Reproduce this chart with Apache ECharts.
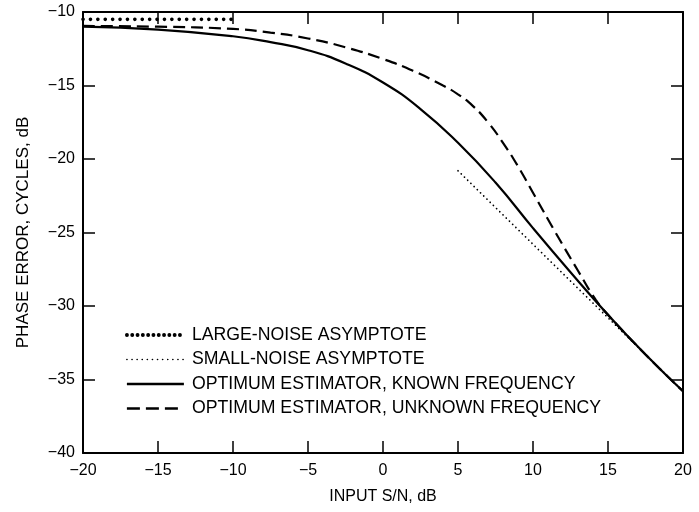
<!DOCTYPE html>
<html>
<head>
<meta charset="utf-8">
<script src="https://cdn.jsdelivr.net/npm/echarts@6/dist/echarts.min.js"></script>
<style>
html,body{margin:0;padding:0;background:#fff;}
#chart{width:699px;height:512px;}
</style>
</head>
<body>
<div id="chart"></div>
<script>
// ---- data ----
var seriesNames = [
  'LARGE-NOISE ASYMPTOTE',
  'SMALL-NOISE ASYMPTOTE',
  'OPTIMUM ESTIMATOR, KNOWN FREQUENCY',
  'OPTIMUM ESTIMATOR, UNKNOWN FREQUENCY'
];
var largeNoiseX = [-20, -10];
var largeNoiseY = [-10.5, -10.5];

var smallNoiseX = [5, 20];
var smallNoiseY = [-20.8, -35.8];

var knownX = [-20, -15, -10, -7.5, -5, -2.5, 0, 2.5, 5, 7.5, 10, 12.5, 15, 17.5, 20];
var knownY = [-11.0, -11.2, -11.65, -12.05, -12.6, -13.5, -14.8, -16.6, -18.9, -21.6, -24.7, -27.7, -30.6, -33.3, -35.8];

var unknownX = [-20, -15, -10, -7.5, -5, -2.5, 0, 2, 4, 5, 6, 7, 8, 9, 10, 11.5, 13, 14.2, 15, 17.5, 20];
var unknownY = [-10.95, -11.0, -11.15, -11.4, -11.8, -12.4, -13.2, -14.0, -15.0, -15.6, -16.4, -17.5, -18.9, -20.5, -22.3, -25.0, -27.6, -29.6, -30.6, -33.3, -35.8];

var xTicks = { min: -20, max: 20, step: 5 };
var yTicks = { min: -40, max: -10, step: 5 };

function pairs(xs, ys) { return xs.map(function (x, i) { return [x, ys[i]]; }); }
function fmt(v) { return v < 0 ? '\u2212' + Math.abs(v) : String(v); }

var FONT = 'Liberation Sans, Arial, Helvetica, sans-serif';
var chart = echarts.init(document.getElementById('chart'), null, { renderer: 'canvas' });

var axisLine = { show: true, onZero: false, lineStyle: { color: '#000', width: 2 } };
var axisTick = { show: true, inside: true, length: 12, lineStyle: { color: '#000', width: 1.5 } };
var labelStyle = { color: '#000', fontFamily: FONT, fontSize: 16 };

var styles = [
  { color: '#000', width: 3.6, type: [0.1, 7.3], cap: 'round' },
  { color: '#000', width: 1.7, type: [0.1, 4.4], cap: 'round' },
  { color: '#000', width: 2.2, type: 'solid' },
  { color: '#000', width: 2.2, type: [12, 6] }
];
var legendStyles = [
  { color: '#000', width: 3.8, type: [0.1, 5.2], cap: 'round' },
  { color: '#000', width: 1.6, type: [0.1, 5], cap: 'round' },
  { color: '#000', width: 2.6, type: 'solid' },
  { color: '#000', width: 2.4, type: [13, 6] }
];

var option = {
  animation: false,
  backgroundColor: '#fff',
  grid: { left: 83, right: 16, top: 12, bottom: 59, containLabel: false },
  legend: {
    orient: 'vertical',
    left: 120,
    top: 321,
    itemWidth: 57,
    itemHeight: 10,
    itemGap: 6.5,
    itemStyle: { opacity: 0 },
    textStyle: { color: '#000', fontFamily: FONT, fontSize: 17.7, lineHeight: 18, padding: [0, 0, 0, 3] },
    data: seriesNames.map(function (n, i) { return { name: n, lineStyle: legendStyles[i], itemStyle: { opacity: 0 } }; })
  },
  xAxis: [
    {
      type: 'value', min: xTicks.min, max: xTicks.max, interval: xTicks.step, position: 'bottom',
      name: 'INPUT S/N, dB', nameLocation: 'middle', nameGap: 36,
      nameTextStyle: { color: '#000', fontFamily: FONT, fontSize: 16 },
      axisLine: axisLine, axisTick: axisTick, splitLine: { show: false },
      axisLabel: Object.assign({ margin: 10, formatter: fmt }, labelStyle)
    },
    {
      type: 'value', min: xTicks.min, max: xTicks.max, interval: xTicks.step, position: 'top',
      axisLine: axisLine, axisTick: axisTick, splitLine: { show: false }, axisLabel: { show: false }
    }
  ],
  yAxis: [
    {
      type: 'value', min: yTicks.min, max: yTicks.max, interval: yTicks.step, position: 'left',
      name: 'PHASE ERROR, CYCLES, dB', nameLocation: 'middle', nameGap: 51, nameRotate: 90,
      nameTextStyle: { color: '#000', fontFamily: FONT, fontSize: 17 },
      axisLine: axisLine, axisTick: axisTick, splitLine: { show: false },
      axisLabel: Object.assign({ margin: 8, formatter: fmt }, labelStyle)
    },
    {
      type: 'value', min: yTicks.min, max: yTicks.max, interval: yTicks.step, position: 'right',
      axisLine: axisLine, axisTick: axisTick, splitLine: { show: false }, axisLabel: { show: false }
    }
  ],
  series: [
    {
      name: seriesNames[0], type: 'line', data: pairs(largeNoiseX, largeNoiseY),
      showSymbol: false, symbol: 'none', color: '#000', lineStyle: styles[0]
    },
    {
      name: seriesNames[1], type: 'line', data: pairs(smallNoiseX, smallNoiseY),
      showSymbol: false, symbol: 'none', color: '#000', lineStyle: styles[1]
    },
    {
      name: seriesNames[2], type: 'line', data: pairs(knownX, knownY), smooth: 0.5,
      showSymbol: false, symbol: 'none', color: '#000', lineStyle: styles[2]
    },
    {
      name: seriesNames[3], type: 'line', data: pairs(unknownX, unknownY), smooth: 0.5,
      showSymbol: false, symbol: 'none', color: '#000', lineStyle: styles[3]
    }
  ]
};
chart.setOption(option);
</script>
</body>
</html>
